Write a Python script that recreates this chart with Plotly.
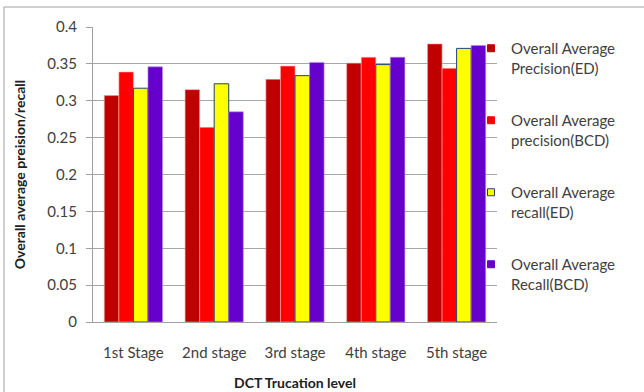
import plotly.graph_objects as go

categories = ["1st Stage", "2nd stage", "3rd stage", "4th stage", "5th stage"]
prec_ed = [0.307, 0.315, 0.329, 0.351, 0.377]
prec_bcd = [0.339, 0.264, 0.347, 0.359, 0.344]
recall_ed = [0.317, 0.323, 0.334, 0.349, 0.371]
recall_bcd = [0.346, 0.285, 0.352, 0.359, 0.375]

series_names = [
    "Overall Average<br>Precision(ED)",
    "Overall Average<br>precision(BCD)",
    "Overall Average<br>recall(ED)",
    "Overall Average<br>Recall(BCD)",
]
series_values = [prec_ed, prec_bcd, recall_ed, recall_bcd]
colors = ["#C00000", "#FF0000", "#FFFF00", "#6600CC"]
line_colors = ["#E8A0A0", "#FFB0B0", "#243F73", "#B090E0"]
line_widths = [0.6, 0.6, 1.0, 0.6]

W, H = 644, 392
L, R, T, B = 93, 147, 27, 70
pw, ph = W - L - R, H - T - B

fig = go.Figure()
for i, (name, vals) in enumerate(zip(series_names, series_values)):
    fig.add_trace(go.Bar(
        x=categories, y=vals, name=name,
        marker=dict(color=colors[i], line=dict(color=line_colors[i], width=line_widths[i])),
        legendgroup=f"g{i}", showlegend=False,
    ))
    # legend entry with a small square key, like the reference
    fig.add_trace(go.Scatter(
        x=[categories[0]], y=[None], mode="markers", name=name,
        marker=dict(symbol="square", size=7, color=colors[i],
                    line=dict(color=line_colors[i] if i == 2 else colors[i], width=1)),
        legendgroup=f"g{i}", showlegend=True, hoverinfo="skip",
    ))

font_family = "Lato, 'Open Sans', sans-serif"
fig.update_layout(
    width=W, height=H,
    margin=dict(l=L, r=R, t=T, b=B, pad=0, autoexpand=False),
    paper_bgcolor="white", plot_bgcolor="white",
    barmode="group", bargap=0.28, bargroupgap=0,
    font=dict(family=font_family, size=15, color="#404040"),
    legend=dict(
        x=(471 - L) / pw, xanchor="left",
        y=(322 - 32) / ph, yanchor="top",
        font=dict(size=15, color="#404040"),
        traceorder="grouped", tracegroupgap=30,
        valign="top", bgcolor="rgba(0,0,0,0)",
        itemwidth=30,
    ),
    xaxis=dict(
        showline=True, linecolor="#A0A0A0", linewidth=1,
        ticks="outside", ticklen=17, tickcolor="rgba(0,0,0,0)",
        tickfont=dict(size=15, color="#404040"),
        automargin=False,
        title=dict(text="<b>DCT Trucation level</b>", font=dict(size=14, color="#202020"), standoff=18),
    ),
    yaxis=dict(
        range=[0, 0.4], dtick=0.05, tickformat="~g",
        showgrid=True, gridcolor="#A6A6A6", gridwidth=1,
        showline=True, linecolor="#A0A0A0", linewidth=1,
        ticks="outside", ticklen=6, tickcolor="#A0A0A0",
        ticklabelstandoff=6,
        zeroline=False, automargin=False,
        tickfont=dict(size=15, color="#404040"),
        title=dict(text="<b>Overall average preision/recall</b>", font=dict(size=14, color="#202020"), standoff=18),
    ),
    showlegend=True,
)

# outer chart border (left and top edges visible in reference)
fig.add_shape(type="line", xref="paper", yref="paper",
              x0=(4 - L) / pw, x1=(W + 5 - L) / pw,
              y0=(322 - 7) / ph, y1=(322 - 7) / ph,
              line=dict(color="#A0A0A0", width=1))
fig.add_shape(type="line", xref="paper", yref="paper",
              x0=(4 - L) / pw, x1=(4 - L) / pw,
              y0=(322 - 7) / ph, y1=(322 - H - 5) / ph,
              line=dict(color="#A0A0A0", width=1))

fig.write_html("out.html")
